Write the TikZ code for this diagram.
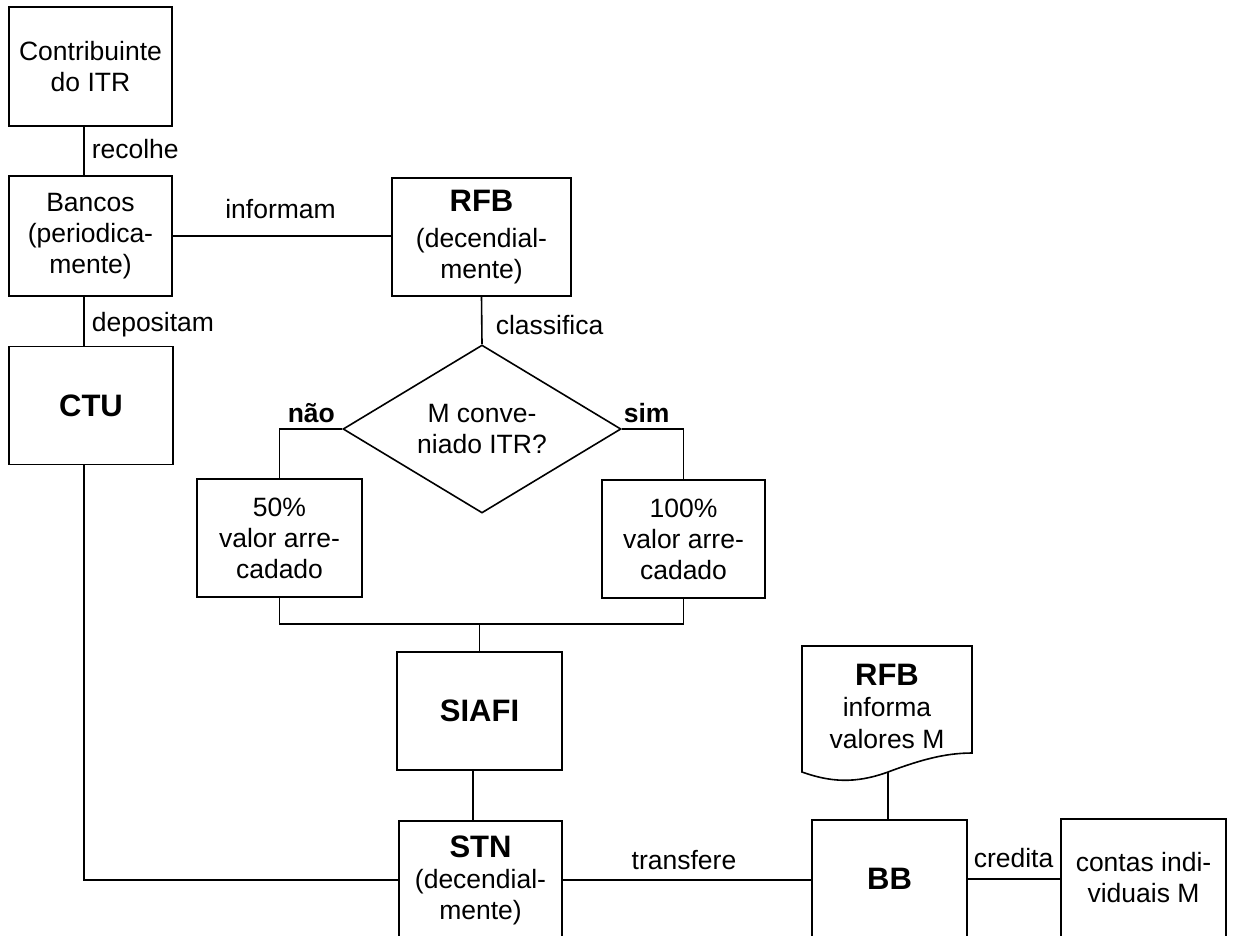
\documentclass[tikz,border=0pt]{standalone}
\usepackage{fontspec}
\setmainfont{Liberation Sans}
\usetikzlibrary{shapes.geometric}
\newcommand{\hd}[1]{{\fontsize{31}{34}\selectfont\bfseries #1}}
\begin{document}
\begin{tikzpicture}[x=1pt,y=-1pt, line width=1.6pt,
 box/.style={draw, line width=1.6pt, inner sep=0pt, align=center, font=\fontsize{26.5}{31}\selectfont},
 lbl/.style={inner sep=0pt, font=\fontsize{26.5}{31}\selectfont},
 big/.style={font=\fontsize{31}{34}\selectfont\bfseries}]
\useasboundingbox (0,0) rectangle (1233,935);
\clip (0,0) rectangle (1233,935);

\node[box, minimum width=163pt, minimum height=119pt] (contrib) at (90.5,66.5) {Contribuinte\\do ITR};
\node[box, minimum width=163pt, minimum height=120pt] (bancos) at (90.5,236) {Bancos\\(periodica-\\mente)};
\node[box, minimum width=179pt, minimum height=118pt] (rfb) at (481.5,237) {\hd{RFB}\\[5pt](decendial-\\mente)};
\node[box, big, minimum width=164pt, minimum height=118pt] (ctu) at (91,405.5) {CTU};
\node[draw, diamond, aspect=1.655, minimum width=278pt, minimum height=168pt, inner sep=0pt, align=center, font=\fontsize{26.5}{31}\selectfont] (dec) at (482,429) {M conve-\\niado ITR?};
\node[box, minimum width=165pt, minimum height=118pt] (p50) at (279.5,538) {50\%\\valor arre-\\cadado};
\node[box, minimum width=163pt, minimum height=118pt] (p100) at (683.5,539) {100\%\\valor arre-\\cadado};
\node[box, big, minimum width=165pt, minimum height=118pt] (siafi) at (479.5,711) {SIAFI};
\node[box, minimum width=163pt, minimum height=118pt] (stn) at (480.5,880) {\hd{STN}\\(decendial-\\mente)};
\node[box, big, minimum width=155pt, minimum height=118pt] (bb) at (889.5,879) {BB};
\node[box, minimum width=165pt, minimum height=118pt] (contas) at (1143.5,878) {contas indi-\\viduais M};

\node[inner sep=0pt, align=center, font=\fontsize{26.5}{31.5}\selectfont] (doc) at (887,706) {\hd{RFB}\\informa\\valores M};
\draw (802,646) -- (972,646) -- (972,753) .. controls (945,753) and (920,760) .. (888,772) .. controls (855,784) and (830,782) .. (802,772) -- cycle;
\coordinate (docb) at (888,772);

\draw ([xshift=-6.5pt]contrib.south) -- ([xshift=-6.5pt]bancos.north);
\draw (bancos.east) -- (bancos.east -| rfb.west);
\draw ([xshift=-6.5pt]bancos.south) -- ([xshift=-6.5pt]bancos.south |- ctu.north);
\draw (rfb.south) -- (dec.north);
\draw (dec.west) -| (p50.north);
\draw (dec.east) -| (p100.north);
\coordinate (bus) at (481,624);
\draw (p50.south) |- (bus) -| (p100.south);
\draw (siafi.north) -- (siafi.north |- bus);
\draw ([xshift=-6.5pt]siafi.south) -- ([xshift=-6.5pt]siafi.south |- stn.north);
\draw ([xshift=-7pt]ctu.south) |- (stn.west);
\draw (stn.east) -- (stn.east -| bb.west);
\draw (bb.east) -- (bb.east -| contas.west);
\draw (docb) -- (docb |- bb.north);

\node[lbl, anchor=base west] (recolhe) at (91,158) {recolhe};
\node[lbl, anchor=base] (informam) at (280.5,218) {informam};
\node[lbl, anchor=base west] (depositam) at (91,331) {depositam};
\node[lbl, anchor=base west] (classifica) at (495,334) {classifica};
\node[lbl, anchor=base west] (nao) at (287,422) {\textbf{não}};
\node[lbl, anchor=base west] (sim) at (623,422) {\textbf{sim}};
\node[lbl, anchor=base] (transfere) at (684,869) {transfere};
\node[lbl, anchor=base west] (credita) at (973,867) {credita};
\end{tikzpicture}
\end{document}
